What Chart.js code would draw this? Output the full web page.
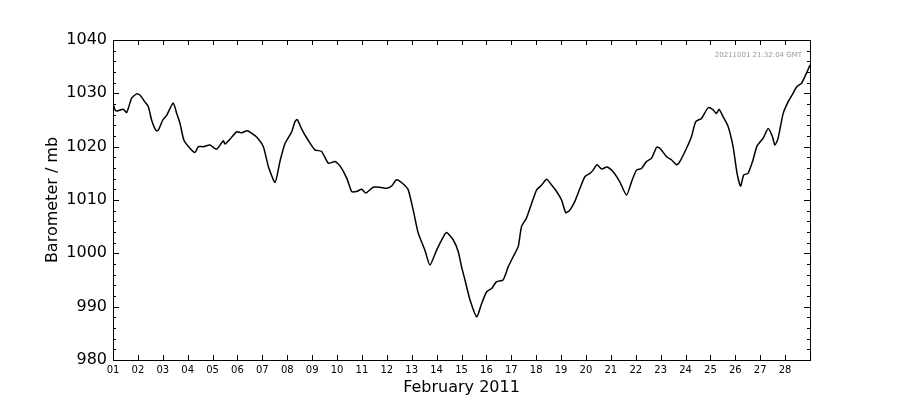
<!DOCTYPE html>
<html>
<head>
<meta charset="utf-8">
<script src="https://cdn.jsdelivr.net/npm/chart.js@4"></script>
<style>
  html, body { margin: 0; padding: 0; background: #fff; }
  #wrap { width: 900px; height: 400px; }
</style>
</head>
<body>
<div id="wrap"><canvas id="c" width="900" height="400"></canvas></div>
<script>
// Time as day-of-month (1.0 = 01 Feb 2011 00:00 GMT)
const dayOfMonth = [
  1.00, 1.08, 1.16, 1.41, 1.55, 1.75, 1.95, 2.08, 2.28, 2.42, 2.55, 2.73, 2.82, 3.00, 3.16, 3.42,
  3.56, 3.69, 3.85, 4.09, 4.29, 4.43, 4.63, 4.90, 5.16, 5.43, 5.50, 5.70, 5.97, 6.17, 6.39, 6.57,
  6.77, 7.04, 7.24, 7.51, 7.71, 7.91, 8.18, 8.31, 8.40, 8.58, 8.84, 9.11, 9.38, 9.65, 9.92, 10.12,
  10.39, 10.59, 10.79, 10.99, 11.16, 11.45, 11.72, 11.99, 12.19, 12.39, 12.66, 12.86, 13.06, 13.26,
  13.53, 13.73, 14.00, 14.27, 14.40, 14.67, 14.87, 15.00, 15.14, 15.34, 15.61, 15.81, 16.01, 16.21,
  16.41, 16.67, 16.88, 17.08, 17.28, 17.41, 17.61, 17.82, 18.02, 18.22, 18.42, 18.62, 18.82, 19.02,
  19.19, 19.35, 19.55, 19.76, 19.96, 20.16, 20.29, 20.44, 20.64, 20.84, 21.09, 21.36, 21.63, 21.83,
  22.03, 22.23, 22.43, 22.63, 22.84, 22.97, 23.24, 23.44, 23.64, 23.77, 24.04, 24.24, 24.41, 24.64,
  24.91, 25.11, 25.24, 25.35, 25.51, 25.71, 25.91, 26.07, 26.21, 26.34, 26.51, 26.71, 26.87, 27.12,
  27.32, 27.49, 27.59, 27.72, 27.92, 28.12, 28.32, 28.46, 28.66, 28.86, 29.00
];
// Barometric pressure, mb
const pressure = [
  1028.2, 1026.9, 1026.7, 1027.0, 1026.4, 1029.1, 1029.9, 1029.7, 1028.4, 1027.5, 1025.0, 1023.0, 1023.1, 1025.0, 1025.9, 1028.2,
  1026.2, 1024.4, 1021.2, 1019.7, 1018.9, 1020.0, 1020.0, 1020.3, 1019.5, 1021.1, 1020.5, 1021.4, 1022.8, 1022.6, 1023.0, 1022.5,
  1021.8, 1020.0, 1016.3, 1013.3, 1017.3, 1020.6, 1022.8, 1024.7, 1025.1, 1023.3, 1021.2, 1019.4, 1019.1, 1016.9, 1017.2, 1016.4,
  1014.1, 1011.6, 1011.6, 1012.0, 1011.3, 1012.4, 1012.4, 1012.2, 1012.6, 1013.8, 1013.0, 1011.9, 1008.1, 1003.8,
  1000.6, 997.8, 1000.6, 1003.1, 1003.9, 1002.5, 1000.3, 997.5, 995.0, 991.3, 988.1, 990.6, 992.8, 993.4,
  994.7, 995.0, 997.5, 999.4, 1001.3, 1005.0, 1006.6, 1009.4, 1011.9, 1012.8, 1013.9, 1012.8, 1011.6, 1010.0,
  1007.6, 1008.1, 1009.7, 1012.2, 1014.4, 1015.0, 1015.6, 1016.6, 1015.8, 1016.2, 1015.3, 1013.4, 1010.9, 1013.4,
  1015.6, 1015.9, 1017.2, 1017.8, 1019.9, 1019.7, 1018.1, 1017.5, 1016.6, 1017.2, 1019.7, 1021.9, 1024.7, 1025.3,
  1027.3, 1026.9, 1026.2, 1027.0, 1025.6, 1023.8, 1020.0, 1015.0, 1012.6, 1014.7, 1015.0, 1017.5, 1020.1, 1021.6,
  1023.4, 1021.9, 1020.3, 1021.6, 1026.2, 1028.4, 1030.0, 1031.2, 1031.9, 1033.8, 1035.3
];
const xTickDays = [1,2,3,4,5,6,7,8,9,10,11,12,13,14,15,16,17,18,19,20,21,22,23,24,25,26,27,28];
const xTickLabels = ["01","02","03","04","05","06","07","08","09","10","11","12","13","14","15","16","17","18","19","20","21","22","23","24","25","26","27","28"];
const yTicks = [980, 990, 1000, 1010, 1020, 1030, 1040];
const yMinorStep = 2;
const xTitle = "February 2011";
const yTitle = "Barometer / mb";
const stampText = "20211001 21:32:04 GMT";

const points = dayOfMonth.map((d, i) => ({ x: d, y: pressure[i] }));
const FONT = "'DejaVu Sans', 'Liberation Sans', sans-serif";

const framePlugin = {
  id: 'frame',
  afterDatasetsDraw(chart) {
    const { ctx, chartArea: a, scales: { x, y } } = chart;
    ctx.save();
    ctx.strokeStyle = '#000';
    ctx.lineWidth = 1;
    // frame
    ctx.strokeRect(Math.round(a.left) + 0.5, Math.round(a.top) + 0.5,
                   Math.round(a.right - a.left), Math.round(a.bottom - a.top));
    ctx.beginPath();
    // x ticks inward (bottom and top)
    xTickDays.forEach(d => {
      const px = Math.round(x.getPixelForValue(d)) + 0.5;
      ctx.moveTo(px, a.bottom); ctx.lineTo(px, a.bottom - 5);
      ctx.moveTo(px, a.top); ctx.lineTo(px, a.top + 5);
    });
    // y major ticks
    yTicks.forEach(v => {
      const py = Math.round(y.getPixelForValue(v)) + 0.5;
      ctx.moveTo(a.left, py); ctx.lineTo(a.left + 6, py);
      ctx.moveTo(a.right, py); ctx.lineTo(a.right - 6, py);
    });
    // y minor ticks
    for (let v = yTicks[0]; v <= yTicks[yTicks.length - 1]; v += yMinorStep) {
      if (v % 10 === 0) continue;
      const py = Math.round(y.getPixelForValue(v)) + 0.5;
      ctx.moveTo(a.left, py); ctx.lineTo(a.left + 3, py);
      ctx.moveTo(a.right, py); ctx.lineTo(a.right - 3, py);
    }
    ctx.stroke();
    // timestamp
    ctx.fillStyle = '#999';
    ctx.font = '7px ' + FONT;
    ctx.textAlign = 'right';
    ctx.textBaseline = 'middle';
    ctx.fillText(stampText, a.right - 8, a.top + 15);
    ctx.restore();
  }
};

new Chart(document.getElementById('c'), {
  type: 'line',
  data: {
    datasets: [{
      data: points,
      borderColor: '#000',
      borderWidth: 1.5,
      pointRadius: 0,
      tension: 0.2,
      fill: false
    }]
  },
  options: {
    responsive: false,
    animation: false,
    layout: { padding: { left: 0, right: 90, top: 40, bottom: 0 } },
    plugins: { legend: { display: false }, tooltip: { enabled: false } },
    scales: {
      x: {
        type: 'linear',
        min: 1, max: 29,
        grid: { display: false, drawTicks: false },
        border: { display: false },
        afterBuildTicks(scale) { scale.ticks = xTickDays.map(v => ({ value: v })); },
        afterFit(scale) { scale.height = 40; },
        ticks: {
          autoSkip: false, maxRotation: 0, padding: 4,
          color: '#000', font: { family: FONT, size: 10 },
          callback: (v) => xTickLabels[xTickDays.indexOf(v)]
        },
        title: { display: true, text: xTitle, color: '#000',
                 font: { family: FONT, size: 16 }, padding: { top: 0, bottom: 3 } }
      },
      y: {
        type: 'linear',
        min: 980, max: 1040,
        grid: { display: false, drawTicks: false },
        border: { display: false },
        afterBuildTicks(scale) { scale.ticks = yTicks.map(v => ({ value: v })); },
        afterFit(scale) { scale.width = 113; },
        ticks: { padding: 6, color: '#000', font: { family: FONT, size: 16 },
                 callback: (v) => String(v) },
        title: { display: true, text: yTitle, color: '#000',
                 font: { family: FONT, size: 16 }, padding: { top: 43, bottom: 0 } }
      }
    }
  },
  plugins: [framePlugin]
});
</script>
</body>
</html>
